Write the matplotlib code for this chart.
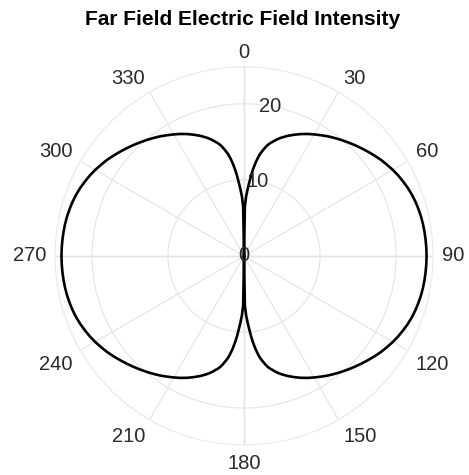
import numpy as np
import matplotlib.pyplot as plt

plt.rcParams['font.family'] = ['Liberation Sans', 'DejaVu Sans']

# field intensity over one quadrant (degrees from the axis, value);
# the pattern is symmetric about both axes
quad_angles = [0, 1, 2, 3, 4, 5, 6, 7, 8, 9, 10, 11, 12, 13, 14, 15.5, 17,
               18.5, 20, 22.5, 25, 27.5, 30, 32.5, 35, 37.5, 40, 42.5, 45,
               47.5, 50, 52.5, 55, 57.5, 60, 62.5, 65, 67.5, 70, 72.5, 75,
               77.5, 80, 82.5, 85, 87.5, 90]
quad_values = [0, 6.5, 7.8, 8.7, 9.6, 10.6, 11.5, 12.3, 13.0, 13.6, 14.05,
               14.5, 14.9, 15.2, 15.45, 15.85, 16.2, 16.5, 16.8, 17.25, 17.68,
               18.08, 18.45, 18.82, 19.2, 19.55, 19.9, 20.25, 20.6, 20.95, 21.3,
               21.65, 22.0, 22.3, 22.6, 22.87, 23.1, 23.32, 23.5, 23.64, 23.75,
               23.84, 23.9, 23.94, 23.97, 23.99, 24.0]

r_ticks = [0, 10, 20]
r_max = 24.85
theta_ticks = list(range(0, 360, 30))

# build the full 0-360 pattern from the quadrant
a = np.array(quad_angles, dtype=float)
v = np.array(quad_values, dtype=float)
theta = np.concatenate([a, 180 - a[::-1][1:], 180 + a[1:], 360 - a[::-1][1:]])
r = np.concatenate([v, v[::-1][1:], v[1:], v[::-1][1:]])

fig = plt.figure(figsize=(4.69, 4.75), dpi=100)
ax = fig.add_axes([0.1173, 0.0632, 0.806, 0.796], projection='polar')
ax.set_theta_zero_location('N')
ax.set_theta_direction(-1)
ax.set_ylim(0, r_max)

ax.plot(np.radians(theta), r, color='black', lw=1.9, zorder=3)

ax.set_xticks(np.radians(theta_ticks))
ax.set_xticklabels([])
ax.set_yticks(r_ticks[1:])
ax.set_yticklabels([])
ax.grid(True, color='#e4e4e4', lw=0.8)
ax.spines['polar'].set_color('#e8e8e8')
ax.spines['polar'].set_linewidth(0.8)

# main axis lines drawn a little darker
for t in [0, 90, 180, 270]:
    ax.plot([np.radians(t)] * 2, [0, r_max], color='#d2d2d2', lw=1.0, zorder=1)

# angle labels anchored just outside the rim, pointing away from it
for t in theta_ticks:
    s, c = np.sin(np.radians(t)), np.cos(np.radians(t))
    ha = 'left' if s > 0.1 else ('right' if s < -0.1 else 'center')
    va = 'baseline' if c > 0.1 else ('top' if c < -0.1 else 'center')
    ax.text(np.radians(t), r_max * 1.048, str(t), ha=ha, va=va,
            fontsize=14.5, color='#2a2a2a', clip_on=False)

# radial labels along a slightly tilted line
for rv in r_ticks:
    ax.text(np.radians(10), rv, str(rv), ha='center', va='center',
            fontsize=14.5, color='#2a2a2a', zorder=4)

fig.text(0.518, 0.958, 'Far Field Electric Field Intensity', ha='center',
         va='center', fontsize=15, fontweight='bold', color='black')

fig.savefig('out.png', dpi=100)
